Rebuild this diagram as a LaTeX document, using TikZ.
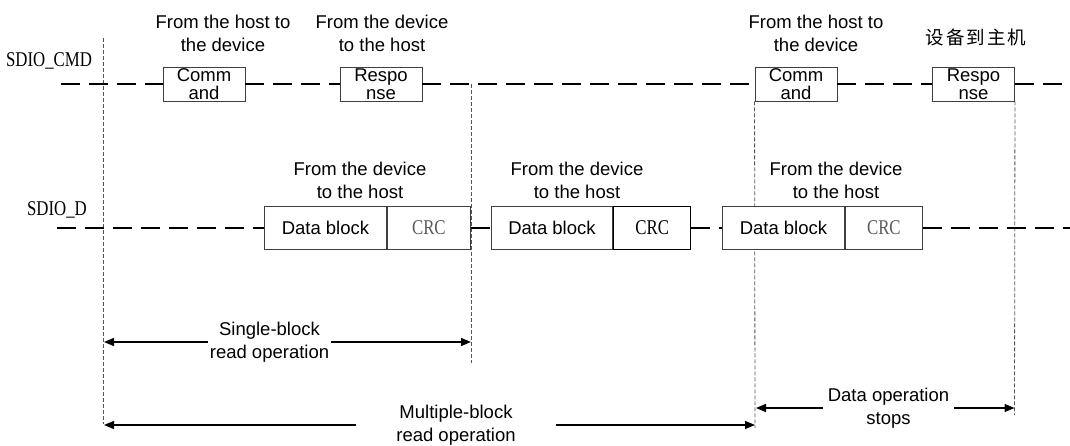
\documentclass[tikz,border=0pt]{standalone}
\usepackage{fontspec}
\setmainfont{Liberation Sans}
\newfontfamily\sdiofont[FakeStretch=0.8]{Liberation Serif}
\newfontfamily\cjkfont{Noto Sans CJK SC}
\usepackage{tikz}
\usetikzlibrary{positioning,arrows.meta,backgrounds}
\usepackage{xcolor}
\definecolor{boxgray}{HTML}{3F3F3F}
\definecolor{crcgray}{HTML}{5A5A5A}
\definecolor{guidegray}{HTML}{555555}
\tikzset{
  cmdbox/.style={
    draw=boxgray,
    fill=white,
    line width=0.9pt,
    minimum width=82pt,
    minimum height=34pt,
    inner sep=0pt,
    align=center,
    font=\fontsize{18.5}{17.5}\selectfont,
  },
  datbox/.style={
    draw=boxgray,
    fill=white,
    line width=0.9pt,
    minimum height=43pt,
    inner sep=0pt,
    font=\fontsize{18.5}{22}\selectfont,
  },
  crcbox/.style={
    datbox,
    text=crcgray,
    font=\sdiofont\fontsize{21}{24}\selectfont,
  },
  crcboxdark/.style={crcbox, draw=black, text=black, line width=1.5pt},
  dirlabel/.style={inner sep=0pt, align=center, font=\fontsize{18.5}{23}\selectfont},
  siglabel/.style={inner sep=0pt, font=\sdiofont\fontsize{21}{24}\selectfont},
  oplabel/.style={inner ysep=0pt, align=center, font=\fontsize{18.5}{23}\selectfont},
  signal/.style={line width=2.6pt, dash pattern=on 19pt off 9pt},
  guide/.style={draw=guidegray, line width=0.8pt, dash pattern=on 4pt off 2pt},
  oparrow/.style={line width=1.3pt, -{Triangle[length=10pt,width=8pt]}},
}

\begin{document}
\begin{tikzpicture}[x=1pt,y=-1pt]
  \useasboundingbox (0,0) rectangle (1070,446);

  % signal names
  \node[siglabel, anchor=base] (cmdname) at (49,67) {SDIO\_CMD};
  \node[siglabel, anchor=base] (datname) at (57,216) {SDIO\_D};

  % command line
  \node[cmdbox] (cmd1) at (204,84) {Comm\\and};
  \node[cmdbox] (rsp1) at (381,84) {Respo\\nse};
  \node[cmdbox] (cmd2) at (796,84) {Comm\\and};
  \node[cmdbox] (rsp2) at (973.5,84) {Respo\\nse};
  \node[dirlabel] (lblcmd1) at (223,33.5) {From the host to\\the device};
  \node[dirlabel] (lblrsp1) at (382,33.5) {From the device\\to the host};
  \node[dirlabel] (lblcmd2) at (816,33.5) {From the host to\\the device};
  \node[dirlabel, font=\cjkfont\fontsize{18.5}{20}\selectfont] (lblrsp2) at (976,37)
    {设\hspace{2pt}备\hspace{2pt}到\hspace{2pt}主\hspace{2pt}机};

  % data line
  \foreach \i/\x/\wb/\wc/\cs/\lx in {1/264/122/83/crcbox/360,
                                     2/491/121/77/crcboxdark/577,
                                     3/722/122/77/crcbox/836} {
    \node[datbox, minimum width=\wb*1pt, anchor=west] (blk\i) at (\x,228) {Data block};
    \node[\cs, minimum width=\wc*1pt, right=0pt of blk\i] (crc\i) {CRC};
    \node[dirlabel] (lblblk\i) at (\lx,180.5) {From the device\\to the host};
  }

  \coordinate (cmdL) at (61,84);
  \coordinate (cmdR) at (1070,84);
  \coordinate (datL) at (57,228);
  \coordinate (datR) at (1070,228);
  \draw[signal] (cmdL) -- (cmd1);
  \draw[signal] (cmd1) -- (rsp1);
  \draw[signal] (rsp1) -- (cmd2);
  \draw[signal] (cmd2) -- (rsp2);
  \draw[signal] (rsp2) -- (cmdR);
  \draw[signal] (datL) -- (blk1);
  \draw[signal] (crc1) -- (blk2);
  \draw[signal] (crc2) -- (blk3);
  \draw[signal] (crc3) -- (datR);

  % time marks
  \coordinate (v1t) at (103,38);
  \coordinate (v1b) at (103,424);
  \coordinate (v2t) at (471,84);
  \coordinate (v2b) at (471,363);
  \coordinate (v3b) at (755,428);
  \coordinate (v4b) at (1014.5,415);
  \begin{scope}[on background layer]
    \draw[guide] (v1t) -- (v1b);
    \draw[guide] (v2t) -- (v2b);
    \draw[guide] (cmd2.south west) -- (v3b);
    \draw[guide] (rsp2.south east) -- (v4b);
  \end{scope}

  % operations
  \coordinate (sA) at (104,342);
  \coordinate (sB) at (471,342);
  \coordinate (mA) at (104,425);
  \coordinate (mB) at (755,425);
  \coordinate (pA) at (756,408);
  \coordinate (pB) at (1014.5,408);
  \node[oplabel, inner xsep=2pt] (single) at (269.5,342) {Single-block\\read operation};
  \node[oplabel, inner xsep=40pt] (multi) at (456,425) {Multiple-block\\read operation};
  \node[oplabel, inner xsep=5pt] (stop) at (888.5,408) {Data operation\\stops};
  \draw[oparrow] (single) -- (sA);
  \draw[oparrow] (single) -- (sB);
  \draw[oparrow] (multi) -- (mA);
  \draw[oparrow] (multi) -- (mB);
  \draw[oparrow] (stop) -- (pA);
  \draw[oparrow] (stop) -- (pB);
\end{tikzpicture}
\end{document}
